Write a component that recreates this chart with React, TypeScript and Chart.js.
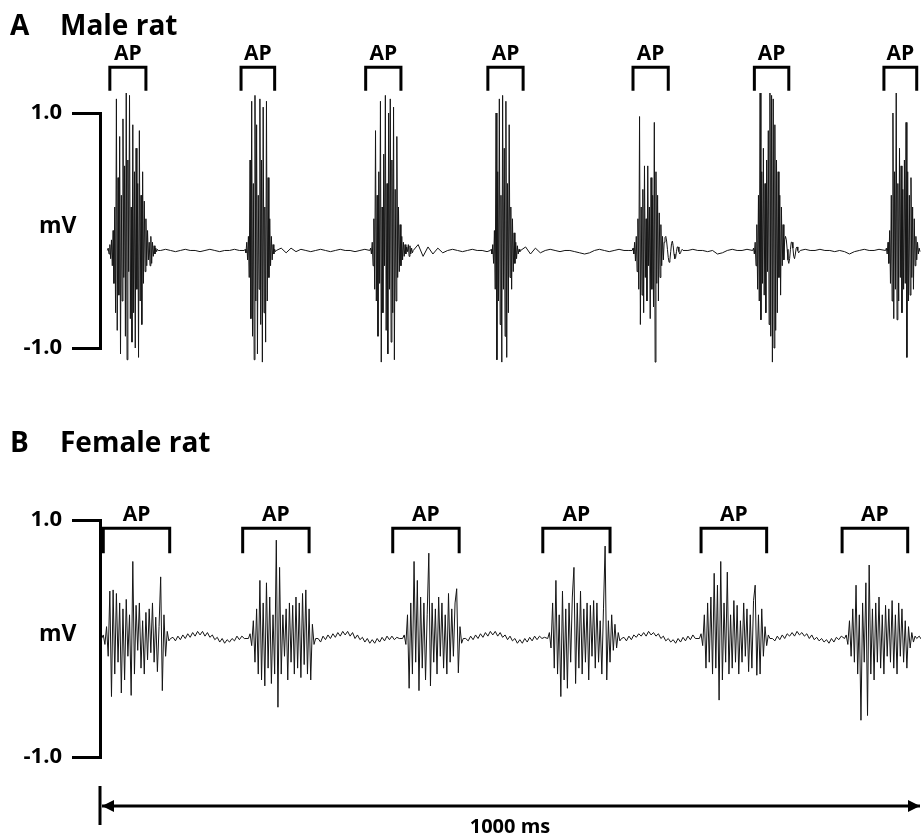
import React, { useEffect, useRef } from 'react';
import { Chart, registerables } from 'chart.js';

Chart.register(...registerables);

const FONT = '"Open Sans", "DejaVu Sans", sans-serif';

// ---------- shared axis data ----------
const Y_TICKS = [-1, 1];
const TIME_SPAN_MS = [0, 1000];

// ---------- Panel A: male rat (mV), bursts sampled every 1 ms ----------
const MALE_BURST_DT = 1;
const MALE_BURST_START_MS = [9, 176, 329, 476, 649, 796, 958];
const maleBurst1 = [-0.17, -0.15, -0.2, -0.12, -0.24, -0.08, -0.3, 0.0, -0.45, 0.2,
  -0.7, 1.12, -0.85, 0.45, -0.55, 0.8, -1.05, 0.3, -0.6, 0.95,
  -0.4, 0.55, -0.9, 1.17, -1.1, 0.6, -0.35, 1.15, -0.75, 0.2,
  -0.95, 0.9, -0.7, 0.5, -1.0, 0.7, -0.5, 0.4, -1.08, 0.85,
  -0.6, 0.3, -0.8, 0.5, -0.45, 0.25, -0.35, 0.1, -0.3, 0.0,
  -0.25, -0.1, -0.3, -0.05, -0.28, -0.1, -0.22, -0.13, -0.2, -0.15,
  -0.18, -0.16, -0.17];
const maleBurst2 = [-0.17, -0.16, -0.19, -0.1, -0.25, -0.05, -0.4, 0.6, -0.75, 1.1,
  -0.9, 0.4, -1.1, 1.15, -0.6, 0.9, -1.05, 0.3, -0.5, 1.12,
  -0.8, 0.6, -1.12, 1.05, -0.7, 0.2, -0.95, 1.1, -0.6, 0.45,
  -0.4, 0.1, -0.3, -0.05, -0.25, -0.12, -0.2, -0.16, -0.18, -0.17];
const maleBurst3 = [-0.17, -0.15, -0.2, -0.1, -0.3, 0.1, -0.5, 0.85, -0.6, 0.3,
  -0.9, 0.5, -0.45, 1.1, -1.12, 0.2, -0.7, 0.65, -0.3, 1.15,
  -0.85, 0.4, -1.05, 1.0, -0.5, 1.12, -0.95, 0.6, -0.7, 1.05,
  -1.1, 0.35, -0.6, 0.8, -0.4, 0.2, -0.35, 0.05, -0.3, -0.05,
  -0.25, -0.1, -0.22, -0.12, -0.2, -0.14, -0.18, -0.12, -0.22, -0.13,
  -0.2, -0.15, -0.19, -0.17];
const maleBurst4 = [-0.17, -0.16, -0.2, -0.12, -0.28, 0.0, -0.5, 1.0, -1.1, 0.5,
  -0.6, 1.12, -0.8, 0.3, -1.12, 1.15, -0.5, 0.7, -0.9, 1.1,
  -1.08, 0.4, -0.7, 0.9, -0.4, 0.2, -0.5, 0.1, -0.35, -0.02,
  -0.28, -0.1, -0.24, -0.13, -0.2, -0.16, -0.18, -0.17];
const maleBurst5 = [-0.17, -0.15, -0.2, -0.1, -0.26, -0.05, -0.35, 0.1, -0.5, 0.97,
  -0.8, 0.2, -0.55, 0.35, -0.7, 0.55, -0.4, 0.1, -0.6, 0.55,
  -0.3, 0.2, -0.75, 0.45, -0.5, 0.3, -0.65, 0.92, -1.12, 0.5,
  -0.45, 0.3, -0.6, 0.15, -0.4, 0.05, -0.3, -0.05, -0.25, -0.1,
  -0.06, -0.05, -0.09, -0.16, -0.23, -0.27, -0.25, -0.18, -0.11, -0.09,
  -0.13, -0.2, -0.24, -0.23, -0.18, -0.14, -0.14, -0.18, -0.2, -0.19,
  -0.17, -0.16, -0.17];
const maleBurst6 = [-0.17, -0.15, -0.2, -0.1, -0.3, 0.05, -0.5, 0.3, -0.6, 1.17,
  -0.76, 0.5, -0.45, 0.7, -0.55, 0.4, -0.7, 0.6, -0.35, 0.85,
  -0.8, 1.17, -0.9, 1.15, -1.12, 1.12, -1.0, 0.9, -0.85, 0.6,
  -0.7, 0.5, -0.4, 0.3, -0.55, 0.2, -0.3, 0.05, -0.25, -0.08,
  -0.05, -0.08, -0.16, -0.25, -0.28, -0.24, -0.16, -0.1, -0.1, -0.15,
  -0.22, -0.24, -0.2, -0.15, -0.14, -0.17, -0.19, -0.18, -0.17];
const maleBurst7 = [-0.17, -0.15, -0.2, -0.1, -0.28, 0.0, -0.45, 0.3, -0.6, 1.0,
  -0.75, 0.5, -0.5, 1.17, -0.76, 0.4, -0.6, 0.7, -0.4, 0.55,
  -0.7, 0.35, -0.5, 0.6, -0.45, 0.92, -1.08, 0.5, -0.6, 0.3,
  -0.55, 0.45, -0.4, 0.2, -0.5, 0.1, -0.3, -0.05, -0.25, -0.1,
  -0.2, -0.15, -0.18, -0.17, -0.17];

// quiet baseline between bursts, sampled every 6 ms
const MALE_QUIET_DT = 6;
const MALE_QUIET_START_MS = [74, 221, 388, 519, 717, 860];
const maleQuiet1 = [-0.17, -0.16, -0.17, -0.18, -0.17, -0.16, -0.17, -0.17, -0.18, -0.17, -0.16, -0.17, -0.18, -0.17, -0.17, -0.16, -0.17];
const maleQuiet2 = [-0.15, -0.19, -0.15, -0.18, -0.16, -0.17, -0.18, -0.17, -0.16, -0.17, -0.18, -0.17, -0.16, -0.17, -0.17, -0.18, -0.17, -0.16];
const maleQuiet3 = [-0.12, -0.22, -0.14, -0.2, -0.15, -0.19, -0.17, -0.16, -0.17, -0.18, -0.17, -0.16, -0.17, -0.17, -0.18];
const maleQuiet4 = [-0.14, -0.2, -0.15, -0.19, -0.17, -0.16, -0.17, -0.18, -0.17, -0.17, -0.18, -0.19, -0.2, -0.19, -0.17, -0.16, -0.17, -0.18, -0.17, -0.16, -0.17, -0.17];
const maleQuiet5 = [-0.17, -0.16, -0.17, -0.17, -0.18, -0.17, -0.2, -0.19, -0.17, -0.16, -0.17, -0.17, -0.16];
const maleQuiet6 = [-0.16, -0.17, -0.17, -0.16, -0.17, -0.17, -0.18, -0.17, -0.18, -0.2, -0.18, -0.17, -0.16, -0.17, -0.17, -0.16];

const MALE_AP_FROM_MS = [12, 172, 324, 473, 650, 798, 956];
const MALE_AP_TO_MS = [56, 213, 367, 516, 693, 840, 996];

// ---------- Panel B: female rat (mV), bursts sampled every 2 ms ----------
const FEMALE_BURST_DT = 2;
const FEMALE_BURST_START_MS = [2, 181, 369, 546, 731, 908];
const femaleBurst1 = [0.0, 0.03, -0.05, 0.1, -0.15, 0.4, -0.49, 0.41, -0.3, 0.38,
  -0.2, 0.3, -0.46, 0.25, -0.35, 0.33, -0.15, 0.2, -0.48, 0.65,
  -0.3, 0.28, -0.1, 0.3, -0.25, 0.15, -0.3, 0.22, -0.18, 0.25,
  -0.12, 0.3, -0.2, 0.18, -0.28, 0.1, 0.52, -0.44, 0.2, -0.15,
  0.06, -0.02, 0.0];
const femaleBurst2 = [0.0, 0.04, -0.06, 0.15, -0.2, 0.25, -0.3, 0.49, -0.35, 0.3,
  -0.4, 0.47, -0.25, 0.35, -0.38, 0.2, -0.3, 0.83, -0.58, 0.6,
  -0.3, 0.2, -0.15, 0.25, -0.35, 0.3, -0.2, 0.28, -0.3, 0.35,
  -0.25, 0.3, -0.33, 0.38, -0.22, 0.41, -0.3, 0.25, -0.35, 0.12,
  -0.05, 0.0];
const femaleBurst3 = [0.0, 0.03, -0.05, 0.2, -0.42, 0.3, -0.3, 0.65, -0.2, 0.49,
  -0.44, 0.35, -0.25, 0.3, -0.35, 0.2, 0.72, -0.4, 0.3, -0.2,
  0.25, -0.3, 0.35, -0.15, 0.3, -0.25, 0.2, -0.3, 0.38, -0.2,
  0.25, -0.15, 0.3, 0.42, -0.29, 0.1, -0.04, 0.0];
const femaleBurst4 = [0.0, 0.05, -0.08, 0.3, -0.25, 0.49, -0.3, 0.2, -0.49, 0.4,
  -0.35, 0.25, -0.42, 0.3, -0.2, 0.35, 0.6, -0.38, 0.3, -0.25,
  0.4, -0.3, 0.25, -0.2, 0.3, -0.35, 0.28, -0.15, 0.32, -0.25,
  0.3, -0.2, 0.15, -0.3, 0.25, 0.78, -0.35, 0.15, -0.2, 0.2,
  -0.1, 0.12, -0.08, 0.05, -0.02, 0.0];
const femaleBurst5 = [0.0, 0.04, -0.06, 0.2, -0.25, 0.3, -0.2, 0.35, -0.3, 0.55,
  -0.25, 0.45, -0.52, 0.65, -0.35, 0.3, -0.2, 0.56, -0.3, 0.2,
  -0.25, 0.32, -0.2, 0.28, -0.3, 0.15, -0.2, 0.3, -0.15, 0.25,
  -0.28, 0.2, -0.25, 0.32, 0.45, -0.31, 0.2, -0.3, 0.25, -0.15,
  0.1, -0.06, 0.03, 0.0];
const femaleBurst6 = [0.0, 0.03, -0.05, 0.15, -0.15, 0.25, -0.2, 0.45, -0.3, 0.2,
  -0.69, 0.3, -0.2, 0.47, -0.65, 0.62, -0.3, 0.25, -0.35, 0.3,
  -0.2, 0.35, -0.25, 0.2, -0.3, 0.28, -0.15, 0.25, -0.2, 0.32,
  -0.25, 0.2, -0.3, 0.3, -0.15, 0.25, -0.2, 0.15, -0.25, 0.1,
  -0.08, 0.05, -0.03, 0.02, 0.0];

// quiet baseline between bursts, sampled every 3 ms
const FEMALE_QUIET_DT = 3;
const FEMALE_QUIET_START_MS = [89, 266, 446, 639, 820, 999];
const femaleQuiet1 = [0.01, -0.02, 0.02, -0.01, 0.03, 0.0, 0.04, 0.01, 0.05, 0.02, 0.06, 0.03, 0.06, 0.02, 0.05, 0.01, 0.03, -0.01, 0.01, -0.03, 0.0, -0.04, -0.01, -0.03, 0.0, -0.02, 0.02, -0.01, 0.02, 0.0];
const femaleQuiet2 = [0.0, -0.03, 0.02, -0.01, 0.03, 0.0, 0.04, 0.01, 0.05, 0.02, 0.06, 0.03, 0.06, 0.02, 0.05, 0.0, 0.03, -0.01, 0.01, -0.03, 0.0, -0.04, -0.01, -0.04, 0.0, -0.03, 0.01, -0.02, 0.02, -0.01, 0.02, -0.01, 0.01, 0.0];
const femaleQuiet3 = [0.0, -0.02, 0.02, -0.01, 0.03, 0.0, 0.04, 0.01, 0.05, 0.02, 0.06, 0.03, 0.06, 0.02, 0.05, 0.01, 0.03, -0.01, 0.02, -0.02, 0.0, -0.04, -0.01, -0.04, 0.0, -0.03, 0.01, -0.02, 0.02, -0.01, 0.02, 0.0, 0.01];
const femaleQuiet4 = [0.01, -0.02, 0.02, -0.01, 0.03, 0.01, 0.04, 0.02, 0.05, 0.02, 0.06, 0.03, 0.05, 0.02, 0.04, 0.0, 0.02, -0.02, 0.0, -0.03, -0.01, -0.04, 0.0, -0.03, 0.01, -0.02, 0.02, -0.01, 0.03, 0.0];
const femaleQuiet5 = [0.0, -0.02, 0.02, -0.01, 0.03, 0.0, 0.04, 0.02, 0.05, 0.02, 0.06, 0.03, 0.05, 0.02, 0.04, 0.0, 0.03, -0.01, 0.01, -0.02, 0.0, -0.03, -0.01, -0.04, 0.0, -0.03, 0.01, -0.01, 0.02];
const femaleQuiet6 = [0.02, -0.01, 0.03];

const FEMALE_AP_FROM_MS = [4, 174, 357, 540, 733, 905];
const FEMALE_AP_TO_MS = [85, 255, 438, 622, 813, 985];

// ---------- helpers ----------
type Pt = { x: number; y: number };

function buildTrace(
  burstStarts: number[], bursts: number[][], burstDt: number,
  quietStarts: number[], quiets: number[][], quietDt: number
): Pt[] {
  const pts: Pt[] = [];
  bursts.forEach((arr, k) => arr.forEach((v, i) => pts.push({ x: burstStarts[k] + i * burstDt, y: v })));
  quiets.forEach((arr, k) => arr.forEach((v, i) => pts.push({ x: quietStarts[k] + i * quietDt, y: v })));
  pts.sort((a, b) => a.x - b.x);
  return pts;
}

const decorPlugin = {
  id: 'panelDecor',
  afterDraw(chart: any, _args: any, opts: any) {
    const { ctx } = chart;
    const xs = chart.scales.x;
    const ys = chart.scales.y;
    ctx.save();
    ctx.fillStyle = '#000';
    ctx.strokeStyle = '#000';

    // panel title
    ctx.font = `bold 28px ${FONT}`;
    ctx.textAlign = 'left';
    ctx.textBaseline = 'alphabetic';
    ctx.fillText(opts.letter, 10, opts.titleY);
    ctx.fillText(opts.title, 60, opts.titleY);

    // unit label
    ctx.font = `bold 23px ${FONT}`;
    ctx.fillText('mV', 39, ys.getPixelForValue(0) + 2);

    // AP brackets
    const yt = ys.getPixelForValue(opts.bracketTop);
    const yb = ys.getPixelForValue(opts.bracketBottom);
    ctx.lineWidth = 3;
    ctx.lineJoin = 'miter';
    ctx.lineCap = 'butt';
    ctx.font = `bold 21px ${FONT}`;
    ctx.textAlign = 'center';
    opts.from.forEach((f: number, i: number) => {
      const x1 = xs.getPixelForValue(f);
      const x2 = xs.getPixelForValue(opts.to[i]);
      ctx.beginPath();
      ctx.moveTo(x1, yb);
      ctx.lineTo(x1, yt);
      ctx.lineTo(x2, yt);
      ctx.lineTo(x2, yb);
      ctx.stroke();
      ctx.fillText('AP', (x1 + x2) / 2, yt - 7);
    });

    // time scale bar
    if (opts.scaleBar) {
      const x0 = xs.getPixelForValue(TIME_SPAN_MS[0]);
      const x1 = xs.getPixelForValue(TIME_SPAN_MS[1]);
      const y = opts.scaleBarY;
      ctx.lineWidth = 3;
      ctx.beginPath();
      ctx.moveTo(x0, y - 20);
      ctx.lineTo(x0, y + 19);
      ctx.moveTo(x0 + 2, y);
      ctx.lineTo(x1, y);
      ctx.stroke();
      ctx.beginPath();
      ctx.moveTo(x0 + 2, y);
      ctx.lineTo(x0 + 14, y - 6);
      ctx.lineTo(x0 + 14, y + 6);
      ctx.closePath();
      ctx.fill();
      ctx.beginPath();
      ctx.moveTo(x1, y);
      ctx.lineTo(x1 - 12, y - 6);
      ctx.lineTo(x1 - 12, y + 6);
      ctx.closePath();
      ctx.fill();
      ctx.font = `bold 20px ${FONT}`;
      ctx.textAlign = 'center';
      ctx.fillText(`${TIME_SPAN_MS[1] - TIME_SPAN_MS[0]} ms`, (x0 + x1) / 2, y + 27);
    }
    ctx.restore();
  },
};

function makeConfig(data: Pt[], padding: any, decor: any): any {
  return {
    type: 'line',
    data: {
      datasets: [{
        data,
        borderColor: '#151515',
        borderWidth: 1,
        pointRadius: 0,
        tension: 0,
        clip: false,
        fill: false,
      }],
    },
    plugins: [decorPlugin],
    options: {
      animation: false,
      responsive: false,
      devicePixelRatio: 1,
      events: [],
      layout: { padding },
      plugins: {
        legend: { display: false },
        tooltip: { enabled: false },
        title: { display: false },
        panelDecor: decor,
      },
      scales: {
        x: { type: 'linear', min: TIME_SPAN_MS[0], max: TIME_SPAN_MS[1], display: false },
        y: {
          type: 'linear',
          min: -1,
          max: 1,
          position: 'left',
          afterFit: (s: any) => { s.width = 100; },
          afterBuildTicks: (s: any) => { s.ticks = Y_TICKS.map((v) => ({ value: v })); },
          ticks: {
            callback: (v: any) => Number(v).toFixed(1),
            color: '#000',
            font: { family: FONT, size: 22, weight: 'bold' },
            padding: 10,
          },
          grid: { drawOnChartArea: false, drawTicks: true, tickLength: 28, lineWidth: 3, color: '#000' },
          border: { display: true, width: 3, color: '#000' },
        },
      },
    },
  };
}

export default function App() {
  const refA = useRef<HTMLCanvasElement>(null);
  const refB = useRef<HTMLCanvasElement>(null);

  useEffect(() => {
    const maleTrace = buildTrace(
      MALE_BURST_START_MS,
      [maleBurst1, maleBurst2, maleBurst3, maleBurst4, maleBurst5, maleBurst6, maleBurst7],
      MALE_BURST_DT,
      MALE_QUIET_START_MS,
      [maleQuiet1, maleQuiet2, maleQuiet3, maleQuiet4, maleQuiet5, maleQuiet6],
      MALE_QUIET_DT
    );
    const femaleTrace = buildTrace(
      FEMALE_BURST_START_MS,
      [femaleBurst1, femaleBurst2, femaleBurst3, femaleBurst4, femaleBurst5, femaleBurst6],
      FEMALE_BURST_DT,
      FEMALE_QUIET_START_MS,
      [femaleQuiet1, femaleQuiet2, femaleQuiet3, femaleQuiet4, femaleQuiet5, femaleQuiet6],
      FEMALE_QUIET_DT
    );
    const chartA = new Chart(refA.current as HTMLCanvasElement, makeConfig(
      maleTrace,
      { top: 113, bottom: 52, left: 0, right: 1 },
      { letter: 'A', title: 'Male rat', titleY: 35, bracketTop: 1.39, bracketBottom: 1.19, from: MALE_AP_FROM_MS, to: MALE_AP_TO_MS, scaleBar: false }
    ));
    const chartB = new Chart(refB.current as HTMLCanvasElement, makeConfig(
      femaleTrace,
      { top: 120, bottom: 78, left: 0, right: 1 },
      { letter: 'B', title: 'Female rat', titleY: 52, bracketTop: 0.93, bracketBottom: 0.72, from: FEMALE_AP_FROM_MS, to: FEMALE_AP_TO_MS, scaleBar: true, scaleBarY: 406 }
    ));
    return () => { chartA.destroy(); chartB.destroy(); };
  }, []);

  return (
    <div style={{ position: 'absolute', left: 0, top: 0, width: 921, height: 835, background: '#fff' }}>
      <canvas ref={refA} width={921} height={400} style={{ display: 'block' }} />
      <canvas ref={refB} width={921} height={435} style={{ display: 'block' }} />
    </div>
  );
}
